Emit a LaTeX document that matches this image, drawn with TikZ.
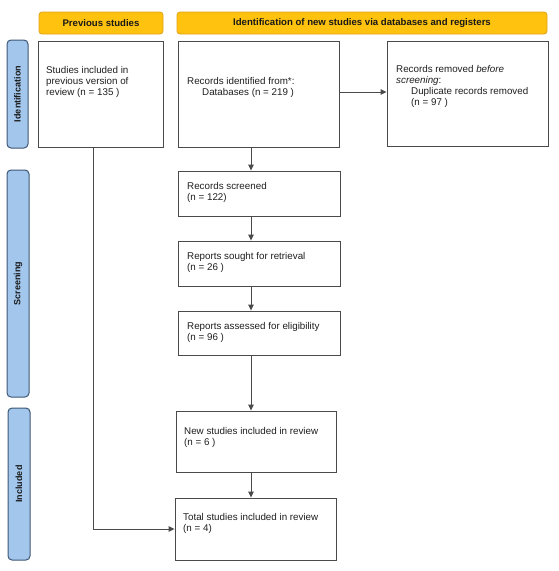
\documentclass[tikz,border=0pt]{standalone}
\usepackage{fontspec}
\setmainfont{Liberation Sans}
\usetikzlibrary{arrows.meta,calc}
\definecolor{hdrfill}{HTML}{FFC20E}
\definecolor{hdrdraw}{HTML}{E0A21A}
\definecolor{sidefill}{HTML}{A2C6EC}
\definecolor{sidedraw}{HTML}{3E5675}
\definecolor{linecol}{HTML}{4A4A4A}
\tikzset{
  hdr/.style={draw=hdrdraw, fill=hdrfill, line width=0.8pt, rounded corners=3pt, font=\fontsize{9.6}{11}\selectfont\bfseries, text=black!90},
  side/.style={draw=sidedraw, fill=sidefill, line width=1pt, rounded corners=4pt},
  sidetxt/.style={rotate=90, font=\fontsize{9}{11}\selectfont\bfseries, text=black!90, inner sep=0pt},
  boxn/.style={draw=linecol, line width=0.9pt, fill=white},
  txt/.style={anchor=north west, align=left, inner sep=0pt, font=\fontsize{9.8}{11}\selectfont, text=black!88},
  conn/.style={draw=linecol, line width=0.9pt},
  arr/.style={conn, -{Triangle[length=6pt,width=5.5pt]}}
}
\begin{document}
\begin{tikzpicture}[x=1pt,y=-1pt]
\useasboundingbox (0,0) rectangle (559,571);
% headers
\node[hdr, minimum width=124pt, minimum height=22pt] (prevhdr) at (101,23) {Previous studies};
\node[hdr, minimum width=370pt, minimum height=22pt] (identhdr) at (362,23) {Identification of new studies via databases and registers};
% sidebars
\node[side, minimum width=21pt, minimum height=108pt] (sideid) at (17.5,94) {};
\node[sidetxt] (sideidt) at (sideid.center) {Identification};
\node[side, minimum width=22pt, minimum height=227pt] (sidescr) at (18,283.5) {};
\node[sidetxt] (sidescrt) at (sidescr.center) {Screening};
\node[side, minimum width=22pt, minimum height=152pt] (sideinc) at (19,484) {};
\node[sidetxt] (sideinct) at (sideinc.center) {Included};
% boxes
\node[boxn, minimum width=125pt, minimum height=106pt] (prev) at (100.5,94) {};
\node[boxn, minimum width=161pt, minimum height=106pt] (ident) at (258.5,94) {};
\node[boxn, minimum width=161pt, minimum height=105pt] (removed) at (467.5,93.5) {};
\node[boxn, minimum width=162pt, minimum height=45pt] (screened) at (259,193.5) {};
\node[boxn, minimum width=162pt, minimum height=45pt] (sought) at (259,263.5) {};
\node[boxn, minimum width=162pt, minimum height=44pt] (assessed) at (259,333) {};
\node[boxn, minimum width=160pt, minimum height=61pt] (newst) at (256,441.5) {};
\node[boxn, minimum width=161pt, minimum height=62pt] (total) at (255.5,529) {};
% texts
\node[txt] (prevt) at (46,66.4) {Studies included in\\previous version of\\review (n = 135 )};
\node[txt] (identt) at (187,77.4) {Records identified from*:\\\hspace*{15pt}Databases (n = 219 )};
\node[txt] (removedt) at (396,65.4) {Records removed \textit{before}\\\textit{screening}:\\\hspace*{15pt}Duplicate records removed\\\hspace*{15pt}(n = 97 )};
\node[txt] (screenedt) at (187,182.4) {Records screened\\(n = 122)};
\node[txt] (soughtt) at (187,252.4) {Reports sought for retrieval\\(n = 26 )};
\node[txt] (assessedt) at (187,322.4) {Reports assessed for eligibility\\(n = 96 )};
\node[txt] (newstt) at (184,427.4) {New studies included in review\\(n = 6 )};
\node[txt] (totalt) at (183,513.4) {Total studies included in review\\(n = 4)};
% connectors
\coordinate (ax) at (251,0);
\coordinate (lx) at (93,0);
\coordinate (ry) at (0,92);
\draw[arr] (ident.south -| ax) -- (screened.north -| ax);
\draw[arr] (screened.south -| ax) -- (sought.north -| ax);
\draw[arr] (sought.south -| ax) -- (assessed.north -| ax);
\draw[arr] (assessed.south -| ax) -- (newst.north -| ax);
\draw[arr] (newst.south -| ax) -- (total.north -| ax);
\draw[arr] (ident.east |- ry) -- (removed.west |- ry);
\draw[arr] (prev.south -| lx) |- (total.west);
\end{tikzpicture}
\end{document}
